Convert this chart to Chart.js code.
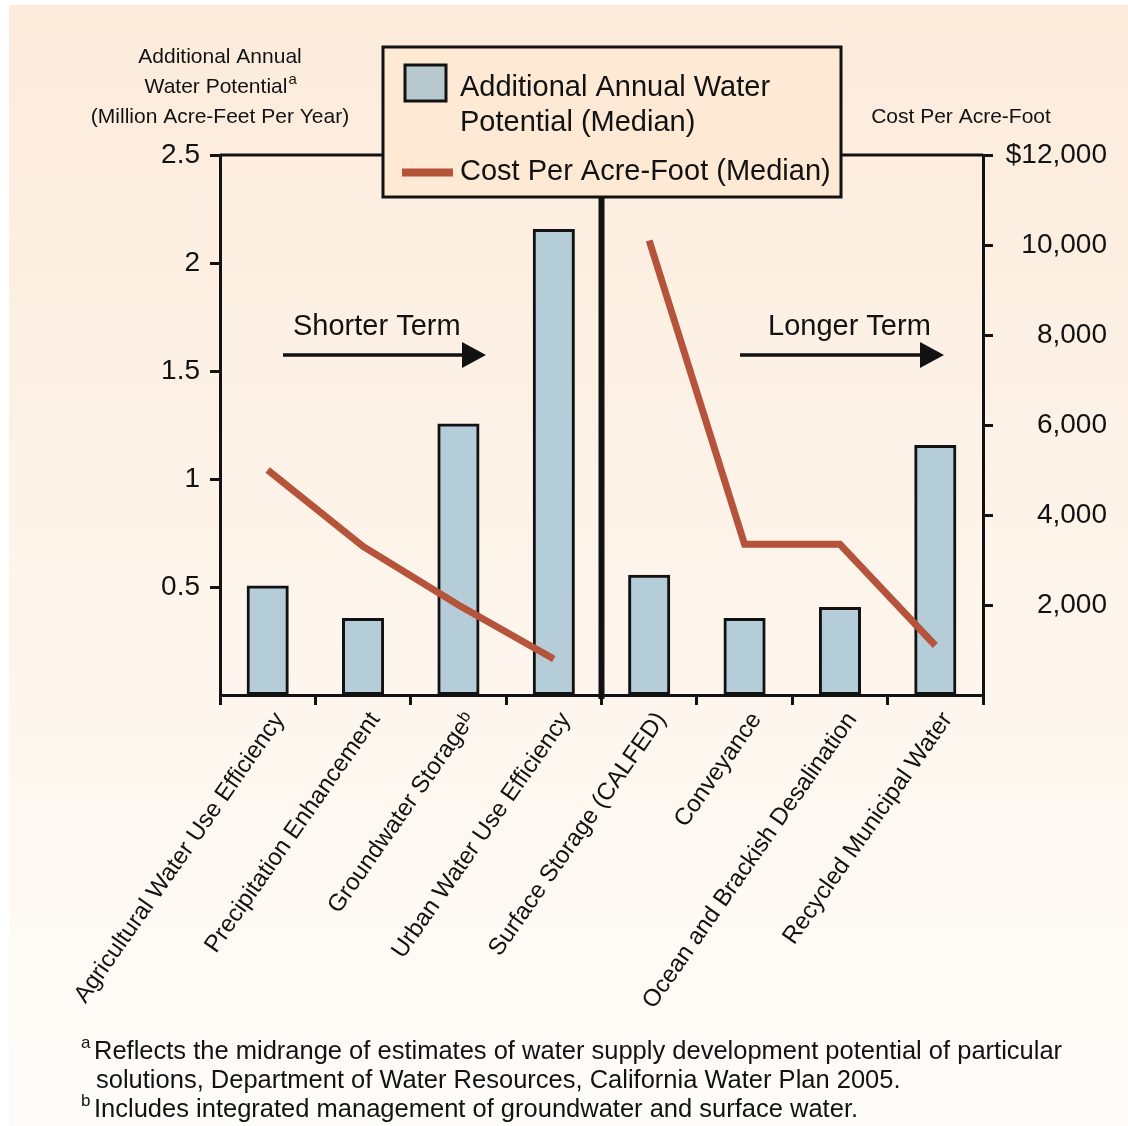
<!DOCTYPE html>
<html>
<head>
<meta charset="utf-8">
<script src="https://cdn.jsdelivr.net/npm/chart.js@4.4.1/dist/chart.umd.min.js"></script>
<style>
  html, body { margin: 0; padding: 0; background: #ffffff; }
  #wrap { width: 1128px; height: 1126px; position: relative; }
  canvas { display: block; }
</style>
</head>
<body>
<div id="wrap"><canvas id="chart" width="1128" height="1126"></canvas></div>
<script>
// ---- data ----
const categories = [
  'Agricultural Water Use Efficiency',
  'Precipitation Enhancement',
  'Groundwater Storage\u1D47',
  'Urban Water Use Efficiency',
  'Surface Storage (CALFED)',
  'Conveyance',
  'Ocean and Brackish Desalination',
  'Recycled Municipal Water'
];
// million acre-feet per year
const waterPotential = [0.5, 0.35, 1.25, 2.15, 0.55, 0.35, 0.4, 1.15];
// dollars per acre-foot
const costPerAcreFoot = [5000, 3300, 2000, 800, 10100, 3350, 3350, 1100];
// first category of the longer-term group
const longerTermStart = 4;

const potentialLegend = ['Additional Annual Water', 'Potential (Median)'];
const costLegend = ['Cost Per Acre-Foot (Median)'];
const leftTitle = ['Additional Annual', 'Water Potential', '(Million Acre-Feet Per Year)'];
const rightTitle = 'Cost Per Acre-Foot';
const termLabels = ['Shorter Term', 'Longer Term'];
const footnotes = [
  { mark: 'a', lines: ['Reflects the midrange of estimates of water supply development potential of particular',
                       'solutions, Department of Water Resources, California Water Plan 2005.'] },
  { mark: 'b', lines: ['Includes integrated management of groundwater and surface water.'] }
];

// ---- styles ----
const FONT = "'Liberation Sans', Arial, Helvetica, 'DejaVu Sans', sans-serif";
const INK = '#121212';
const BAR_FILL = '#b5cdd8';
const LINE_RED = '#b5533b';

function fmtCost(v) {
  if (v === 0) return '';
  const s = v.toLocaleString('en-US');
  return v === 12000 ? '$' + s : s;
}

// panel background with a soft vertical wash
const backdrop = {
  id: 'backdrop',
  beforeDraw(chart) {
    const { ctx, width, height } = chart;
    ctx.save();
    ctx.fillStyle = '#ffffff';
    ctx.fillRect(0, 0, width, height);
    const g = ctx.createLinearGradient(0, 5, 0, height);
    g.addColorStop(0, '#fcebdb');
    g.addColorStop(0.45, '#fdf3e9');
    g.addColorStop(0.85, '#fefaf5');
    g.addColorStop(1, '#fefcfa');
    ctx.fillStyle = g;
    ctx.fillRect(9, 5, width - 9, height - 5);
    ctx.restore();
  }
};

function arrow(ctx, x0, x1, y) {
  ctx.beginPath();
  ctx.lineWidth = 3.5;
  ctx.strokeStyle = INK;
  ctx.moveTo(x0, y);
  ctx.lineTo(x1 - 18, y);
  ctx.stroke();
  ctx.beginPath();
  ctx.fillStyle = INK;
  ctx.moveTo(x1, y);
  ctx.lineTo(x1 - 24, y - 13);
  ctx.lineTo(x1 - 24, y + 13);
  ctx.closePath();
  ctx.fill();
}

// frame top, group divider, titles, legend, arrows and notes
const decorations = {
  id: 'decorations',
  afterDraw(chart) {
    const { ctx, chartArea: a } = chart;
    const xs = chart.scales.x;
    ctx.save();
    ctx.strokeStyle = INK;
    ctx.fillStyle = INK;

    // top edge of the frame
    ctx.lineWidth = 3;
    ctx.beginPath();
    ctx.moveTo(a.left, a.top);
    ctx.lineTo(a.right, a.top);
    ctx.stroke();

    // divider between shorter and longer term groups
    const divX = (xs.getPixelForValue(longerTermStart - 1) + xs.getPixelForValue(longerTermStart)) / 2;
    ctx.lineWidth = 6;
    ctx.beginPath();
    ctx.moveTo(divX, a.top);
    ctx.lineTo(divX, a.bottom + 4);
    ctx.stroke();

    // axis titles
    ctx.font = '21px ' + FONT;
    ctx.textAlign = 'center';
    ctx.textBaseline = 'alphabetic';
    ctx.fillText(leftTitle[0], 220, 63);
    const w1 = ctx.measureText(leftTitle[1]).width;
    ctx.textAlign = 'left';
    ctx.fillText(leftTitle[1], 216 - w1 / 2, 93);
    ctx.font = '15px ' + FONT;
    ctx.fillText('a', 216 + w1 / 2 + 1, 84);
    ctx.font = '21px ' + FONT;
    ctx.textAlign = 'center';
    ctx.fillText(leftTitle[2], 220, 123);
    ctx.fillText(rightTitle, 961, 123);

    // term arrows
    ctx.font = '29px ' + FONT;
    ctx.textAlign = 'left';
    ctx.fillText(termLabels[0], 293, 335);
    ctx.fillText(termLabels[1], 768, 335);
    arrow(ctx, 283, 486, 355);
    arrow(ctx, 740, 944, 355);

    // legend
    const bx = 383, by = 47, bw = 458, bh = 150;
    ctx.fillStyle = '#fde9d4';
    ctx.fillRect(bx, by, bw, bh);
    ctx.lineWidth = 3;
    ctx.strokeRect(bx, by, bw, bh);
    const barSet = chart.data.datasets.find(d => d.type === 'bar');
    const lineSet = chart.data.datasets.find(d => d.type === 'line');
    ctx.fillStyle = '#b7c9ce';
    ctx.fillRect(405, 65, 41, 36);
    ctx.lineWidth = barSet.borderWidth;
    ctx.strokeStyle = barSet.borderColor;
    ctx.strokeRect(405, 65, 41, 36);
    ctx.strokeStyle = lineSet.borderColor;
    ctx.lineWidth = 8;
    ctx.beginPath();
    ctx.moveTo(402, 172.5);
    ctx.lineTo(453, 172.5);
    ctx.stroke();
    ctx.fillStyle = INK;
    ctx.font = '29px ' + FONT;
    ctx.textAlign = 'left';
    ctx.fillText(potentialLegend[0], 460, 96);
    ctx.fillText(potentialLegend[1], 460, 131);
    ctx.fillText(costLegend[0], 460, 180);

    // footnotes
    let y = 1059;
    footnotes.forEach(n => {
      ctx.font = '17px ' + FONT;
      ctx.fillText(n.mark, 81, y - 11);
      n.lines.forEach((ln, i) => {
        ctx.font = '25.5px ' + FONT;
        ctx.fillText(ln, i === 0 ? 94 : 96, y);
        y += 29;
      });
    });
    ctx.restore();
  }
};

new Chart(document.getElementById('chart'), {
  data: {
    labels: categories,
    datasets: [
      {
        type: 'line',
        label: costLegend[0],
        data: costPerAcreFoot,
        yAxisID: 'y2',
        borderColor: LINE_RED,
        borderWidth: 7,
        borderJoinStyle: 'miter',
        borderCapStyle: 'butt',
        pointRadius: 0,
        tension: 0,
        order: 0,
        segment: {
          borderColor: c => c.p0DataIndex === longerTermStart - 1 ? 'rgba(0,0,0,0)' : LINE_RED
        }
      },
      {
        type: 'bar',
        label: potentialLegend.join(' '),
        data: waterPotential,
        yAxisID: 'y',
        backgroundColor: BAR_FILL,
        borderColor: INK,
        borderWidth: 3,
        borderSkipped: false,
        inflateAmount: 1.5,
        barPercentage: 0.41,
        categoryPercentage: 1,
        order: 1
      }
    ]
  },
  options: {
    responsive: false,
    animation: false,
    devicePixelRatio: 1,
    layout: { padding: { top: 155, left: 0, right: 21, bottom: 0 } },
    plugins: { legend: { display: false }, tooltip: { enabled: false } },
    scales: {
      x: {
        type: 'category',
        offset: true,
        grid: { offset: true, drawOnChartArea: false, drawTicks: true, tickLength: 10, color: INK, lineWidth: 3 },
        border: { display: true, color: INK, width: 3 },
        ticks: {
          autoSkip: false, minRotation: 55, maxRotation: 55, padding: 2, labelOffset: 12,
          color: INK, font: { family: FONT, size: 24 }
        },
        afterFit(s) { s.height = 431; }
      },
      y: {
        position: 'left',
        min: 0, max: 2.5,
        grid: {
          drawOnChartArea: false, drawTicks: true, tickLength: 10, lineWidth: 3,
          color: c => (c.tick && c.tick.value === 0) ? 'rgba(0,0,0,0)' : INK
        },
        border: { display: true, color: INK, width: 3 },
        ticks: {
          stepSize: 0.5, padding: 10, color: INK, font: { family: FONT, size: 28 },
          callback: v => v === 0 ? '' : String(v)
        },
        afterFit(s) { s.width = 220; }
      },
      y2: {
        position: 'right',
        min: 0, max: 12000,
        grid: {
          drawOnChartArea: false, drawTicks: true, tickLength: 10, lineWidth: 3,
          color: c => (c.tick && c.tick.value === 0) ? 'rgba(0,0,0,0)' : INK
        },
        border: { display: true, color: INK, width: 3 },
        ticks: {
          stepSize: 2000, padding: 11, crossAlign: 'far', color: INK, font: { family: FONT, size: 28 },
          callback: v => fmtCost(v)
        },
        afterFit(s) { s.width = 124; }
      }
    }
  },
  plugins: [backdrop, decorations]
});
</script>
</body>
</html>
